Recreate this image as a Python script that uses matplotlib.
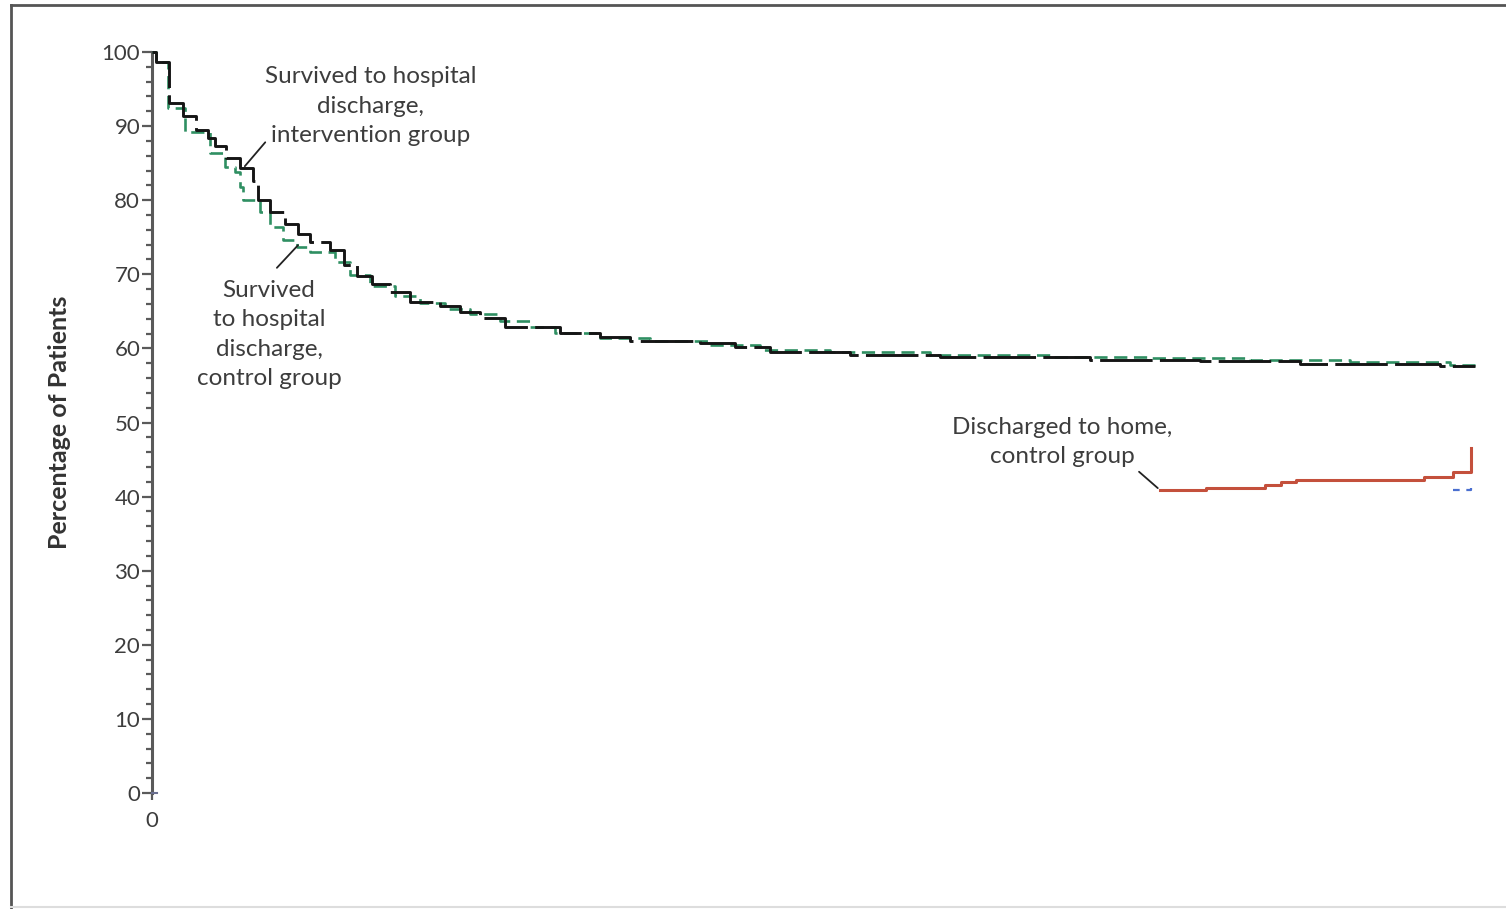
import matplotlib.pyplot as plt
from matplotlib.lines import Line2D
from matplotlib.ticker import MultipleLocator

plt.rcParams['font.family'] = ['Lato', 'DejaVu Sans']

# days since enrolment / percentage of patients (step curves)
days_interv = [0, 0.18, 0.77, 1.41, 2.00, 2.54, 2.86, 3.36, 3.99, 4.58, 4.81, 5.35,
               6.03, 6.62, 7.17, 8.07, 8.71, 9.30, 9.98, 10.79, 11.70, 13.06,
               13.97, 14.88, 16.01, 18.50, 20.32, 21.68, 24.85, 26.44, 28.03,
               31.66, 35.74, 42.54, 47.53, 52.06, 58.41, 60.0]
surv_interv = [100, 98.6, 93.1, 91.4, 89.5, 88.4, 87.3, 85.7, 84.3, 82.6, 80.0, 78.4,
               76.8, 75.4, 74.4, 73.3, 71.3, 69.8, 68.7, 67.6, 66.3, 65.7,
               64.9, 64.1, 62.9, 62.1, 61.5, 61.0, 60.7, 60.2, 59.5,
               59.1, 58.8, 58.4, 58.3, 57.9, 57.6, 57.6]

days_ctrl = [0, 0.18, 0.72, 1.50, 2.63, 3.31, 3.76, 3.99, 4.13, 4.90, 5.35, 5.94,
             6.58, 7.17, 8.30, 8.98, 9.89, 11.02, 12.15, 13.29, 14.42, 15.78,
             17.14, 18.28, 20.32, 22.59, 25.31, 27.57, 30.75, 35.28, 40.73,
             45.26, 49.80, 54.33, 58.87, 60.0]
surv_ctrl = [100, 98.6, 92.4, 89.2, 86.4, 84.5, 83.8, 81.8, 80.0, 78.4, 76.4, 74.6,
             73.7, 73.0, 71.7, 69.9, 68.4, 67.1, 66.1, 65.3, 64.6, 63.7,
             62.9, 62.1, 61.4, 61.0, 60.4, 59.8, 59.5, 59.1, 58.8,
             58.7, 58.4, 58.2, 57.8, 57.8]

days_home_ctrl = [45.7, 47.8, 50.5, 51.2, 51.9, 57.7, 59.0, 59.8, 59.8]
home_ctrl = [40.9, 41.1, 41.6, 42.0, 42.2, 42.7, 43.3, 43.3, 46.6]

days_home_interv = [59.0, 59.8, 59.8]
home_interv = [40.9, 40.9, 41.6]

fig = plt.figure(figsize=(15.06, 9.09), dpi=100)
ax = fig.add_axes([0.1009, 0.1276, 0.8785, 0.8152])

txt = '#3d3d3d'
axis_col = '#5a5a5a'

ax.step(days_ctrl, surv_ctrl, where='post', color='#2f8f62', lw=1.9,
        dashes=(5, 2.5), clip_on=False, zorder=3)
ax.step(days_interv, surv_interv, where='post', color='#151515', lw=2.1,
        dashes=(18, 2.5), clip_on=False, zorder=4)
ax.step(days_home_ctrl, home_ctrl, where='post', color='#c4503c', lw=2.2,
        clip_on=False, zorder=3)
ax.step(days_home_interv, home_interv, where='post', color='#4a6fd0', lw=1.6,
        dashes=(3, 3), clip_on=False, zorder=2)

ax.set_xlim(0, 60)
ax.set_ylim(0, 100)

for s in ['top', 'right']:
    ax.spines[s].set_visible(False)
ax.spines['left'].set_color(axis_col)
ax.spines['left'].set_linewidth(2.2)
ax.spines['bottom'].set_position(('data', 0))
ax.spines['bottom'].set_bounds(0, 0.25)
ax.spines['bottom'].set_color('#6a6f90')
ax.spines['bottom'].set_linewidth(1.5)

ax.yaxis.set_major_locator(MultipleLocator(10))
ax.yaxis.set_minor_locator(MultipleLocator(2))
ax.tick_params(axis='y', which='major', length=7.5, width=1.6, color=axis_col,
               labelsize=16, labelcolor=txt, pad=1)
ax.tick_params(axis='y', which='minor', length=4.5, width=1.6, color=axis_col)
ax.set_xticks([0])
ax.tick_params(axis='x', length=5, width=1.6, color=axis_col, labelsize=16,
               labelcolor=txt, pad=8)

ax.set_ylabel('Percentage of Patients', fontsize=18, fontweight='bold',
              color='#333333', labelpad=22)

label_kw = dict(ha='center', va='center', fontsize=17.5, color=txt, linespacing=1.5)
line_kw = dict(arrowstyle='-', color='#222222', lw=1.3)

ax.text(9.9, 92.7, 'Survived to hospital\ndischarge,\nintervention group', **label_kw)
ax.annotate('', xy=(4.13, 84.3), xytext=(5.22, 88.1), arrowprops=line_kw)

ax.text(5.31, 61.9, 'Survived\nto hospital\ndischarge,\ncontrol group', **label_kw)
ax.annotate('', xy=(6.71, 74.2), xytext=(5.58, 70.6), arrowprops=line_kw)

ax.text(41.27, 47.4, 'Discharged to home,\ncontrol group', **label_kw)
ax.annotate('', xy=(45.71, 40.9), xytext=(44.67, 43.6), arrowprops=line_kw)

# panel frame
fig.add_artist(Line2D([0.0073, 1.0], [0.9945, 0.9945], color='#555555', lw=2.0))
fig.add_artist(Line2D([0.0073, 0.0073], [0.0, 0.9945], color='#555555', lw=2.0))
fig.add_artist(Line2D([0.0073, 1.0], [0.0022, 0.0022], color='#dddddd', lw=1.5))

fig.savefig('out.png', dpi=100)
